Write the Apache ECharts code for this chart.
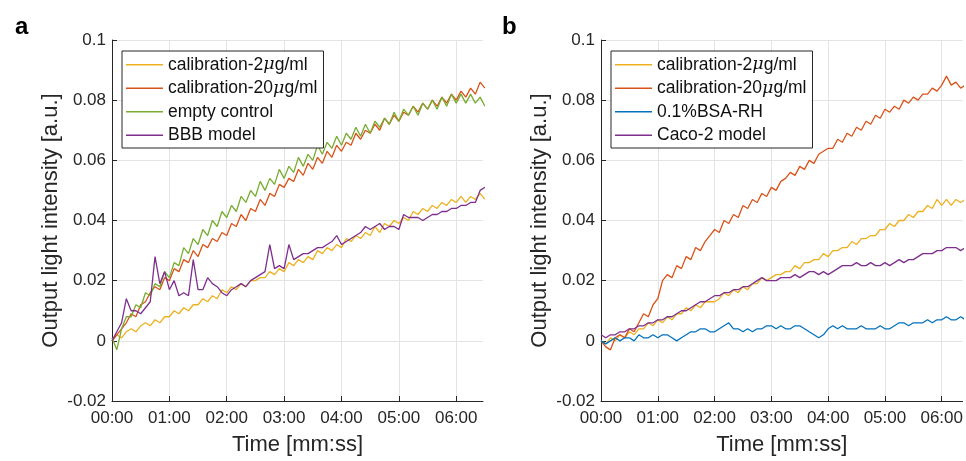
<!DOCTYPE html>
<html>
<head>
<meta charset="utf-8">
<script src="https://cdn.jsdelivr.net/npm/echarts@6/dist/echarts.min.js"></script>
<style>
html,body{margin:0;padding:0;background:#fff;}
#chart{width:966px;height:461px;}
</style>
</head>
<body>
<div id="chart"></div>
<script>
// ---- Data ----
const STEP_S = 5; // sample spacing in seconds
const xTickLabels = ['00:00','01:00','02:00','03:00','04:00','05:00','06:00'];
const yTickLabels = ['-0.02','0','0.02','0.04','0.06','0.08','0.1'];

// Panel a (t = 0 .. 390 s every 5 s)
const a_cal2 = [0.000,0.002,0.001,0.003,0.004,0.003,0.005,0.006,0.005,0.007,0.006,0.008,0.008,0.010,0.009,0.011,0.010,0.012,0.012,0.014,0.013,0.015,0.014,0.017,0.016,0.018,0.017,0.019,0.018,0.020,0.020,0.021,0.021,0.023,0.022,0.024,0.023,0.026,0.025,0.027,0.026,0.028,0.027,0.030,0.029,0.031,0.030,0.032,0.031,0.034,0.033,0.035,0.034,0.036,0.035,0.038,0.036,0.039,0.038,0.040,0.039,0.041,0.040,0.043,0.042,0.044,0.043,0.045,0.044,0.046,0.045,0.047,0.046,0.048,0.046,0.048,0.047,0.049,0.047];
const a_cal20 = [0.000,0.002,0.004,0.006,0.009,0.008,0.012,0.013,0.016,0.018,0.017,0.021,0.020,0.024,0.023,0.027,0.026,0.030,0.028,0.032,0.031,0.034,0.033,0.036,0.035,0.039,0.038,0.042,0.040,0.044,0.043,0.047,0.045,0.049,0.048,0.052,0.051,0.054,0.053,0.057,0.055,0.059,0.057,0.061,0.059,0.063,0.061,0.065,0.063,0.066,0.065,0.069,0.067,0.070,0.069,0.072,0.070,0.074,0.072,0.075,0.073,0.076,0.075,0.078,0.076,0.079,0.077,0.080,0.078,0.081,0.079,0.082,0.080,0.083,0.081,0.084,0.082,0.086,0.084];
const a_empty = [0.001,-0.003,0.004,0.008,0.008,0.012,0.011,0.016,0.015,0.019,0.018,0.023,0.021,0.026,0.025,0.031,0.029,0.034,0.032,0.037,0.035,0.040,0.038,0.043,0.041,0.045,0.043,0.048,0.046,0.050,0.048,0.053,0.050,0.054,0.052,0.057,0.054,0.058,0.056,0.061,0.058,0.062,0.060,0.065,0.062,0.066,0.064,0.068,0.065,0.069,0.067,0.071,0.068,0.072,0.069,0.073,0.071,0.074,0.072,0.076,0.073,0.077,0.075,0.078,0.075,0.079,0.077,0.080,0.077,0.081,0.078,0.082,0.079,0.082,0.079,0.082,0.079,0.081,0.078];
const a_bbb = [0.000,0.003,0.006,0.014,0.010,0.010,0.009,0.011,0.013,0.028,0.019,0.023,0.017,0.020,0.015,0.016,0.015,0.027,0.017,0.017,0.021,0.019,0.018,0.016,0.015,0.017,0.018,0.019,0.018,0.020,0.021,0.022,0.023,0.032,0.024,0.025,0.024,0.032,0.027,0.028,0.029,0.029,0.030,0.031,0.031,0.032,0.033,0.035,0.032,0.033,0.034,0.035,0.036,0.038,0.037,0.038,0.039,0.037,0.038,0.038,0.037,0.042,0.041,0.041,0.041,0.040,0.041,0.042,0.042,0.043,0.043,0.044,0.044,0.045,0.045,0.046,0.046,0.050,0.051];

// Panel b (t = 0 .. 385 s every 5 s)
const b_cal2 = [0.000,-0.001,0.001,0.000,0.002,0.001,0.003,0.002,0.004,0.004,0.006,0.005,0.007,0.006,0.008,0.007,0.009,0.009,0.011,0.010,0.012,0.011,0.013,0.013,0.013,0.014,0.016,0.015,0.017,0.016,0.018,0.017,0.019,0.019,0.021,0.020,0.021,0.022,0.022,0.023,0.023,0.025,0.024,0.026,0.026,0.027,0.027,0.029,0.028,0.030,0.030,0.031,0.031,0.033,0.032,0.034,0.034,0.035,0.035,0.037,0.037,0.039,0.038,0.040,0.040,0.042,0.041,0.043,0.043,0.045,0.044,0.047,0.045,0.047,0.045,0.047,0.046,0.047];
const b_cal20 = [0.000,-0.002,-0.003,0.001,0.002,0.001,0.004,0.003,0.006,0.009,0.008,0.012,0.014,0.020,0.022,0.021,0.025,0.024,0.028,0.027,0.031,0.030,0.033,0.035,0.037,0.036,0.040,0.039,0.042,0.041,0.045,0.044,0.047,0.046,0.049,0.048,0.051,0.050,0.053,0.054,0.056,0.055,0.058,0.057,0.060,0.059,0.062,0.063,0.064,0.064,0.067,0.066,0.069,0.068,0.071,0.070,0.073,0.072,0.075,0.074,0.077,0.076,0.078,0.077,0.080,0.079,0.081,0.080,0.082,0.082,0.084,0.083,0.085,0.088,0.085,0.086,0.084,0.085];
const b_bsa = [0.000,-0.001,0.000,0.001,0.000,0.001,0.001,0.000,0.002,0.001,0.001,0.002,0.001,0.002,0.002,0.001,0.000,0.001,0.002,0.003,0.003,0.004,0.004,0.003,0.003,0.004,0.005,0.006,0.004,0.004,0.003,0.004,0.003,0.004,0.004,0.005,0.005,0.004,0.005,0.004,0.004,0.005,0.005,0.004,0.003,0.002,0.001,0.002,0.004,0.005,0.004,0.005,0.004,0.004,0.004,0.005,0.004,0.004,0.004,0.005,0.004,0.004,0.005,0.006,0.006,0.005,0.006,0.006,0.006,0.007,0.006,0.007,0.007,0.008,0.007,0.007,0.008,0.007];
const b_caco = [0.002,0.001,0.002,0.002,0.003,0.003,0.004,0.004,0.005,0.005,0.006,0.006,0.007,0.007,0.008,0.008,0.009,0.010,0.010,0.011,0.012,0.013,0.013,0.014,0.015,0.015,0.016,0.016,0.017,0.017,0.018,0.018,0.019,0.020,0.021,0.020,0.020,0.020,0.021,0.021,0.021,0.022,0.021,0.022,0.023,0.023,0.022,0.023,0.022,0.023,0.024,0.025,0.025,0.025,0.026,0.025,0.025,0.026,0.025,0.025,0.026,0.025,0.026,0.027,0.026,0.027,0.027,0.028,0.029,0.029,0.029,0.030,0.030,0.031,0.031,0.031,0.030,0.031];

const seriesNamesA = ['calibration-2μg/ml','calibration-20μg/ml','empty control','BBB model'];
const seriesNamesB = ['calibration-2μg/ml ','calibration-20μg/ml ','0.1%BSA-RH','Caco-2 model'];
const COLORS = {yellow:'#EDB120', red:'#D95319', green:'#77AC30', purple:'#7E2F8E', blue:'#0072BD'};

// ---- Build ----
const toPairs = arr => arr.map((v, i) => [i * STEP_S, v]);
const FONT = 'Liberation Sans, Arial, sans-serif';
const TXT = '#262626';

function xAxisCfg(gi, max) {
  return {
    type: 'value', gridIndex: gi, min: 0, max: max, interval: 60,
    name: 'Time [mm:ss]', nameLocation: 'middle', nameGap: 33,
    nameTextStyle: {fontSize: 22, color: TXT, fontFamily: FONT},
    axisLine: {show: true, onZero: false, lineStyle: {color: TXT, width: 1}},
    axisTick: {show: true, inside: true, length: 5, lineStyle: {color: TXT}},
    axisLabel: {
      fontSize: 17, color: TXT, fontFamily: FONT, margin: 9, showMaxLabel: false,
      formatter: v => (v % 60 === 0 && xTickLabels[v / 60] !== undefined) ? xTickLabels[v / 60] : ''
    },
    splitLine: {show: true, showMaxLine: false, lineStyle: {color: '#e3e3e3', width: 1}}
  };
}
function yAxisCfg(gi) {
  return {
    type: 'value', gridIndex: gi, min: -0.02, max: 0.1, interval: 0.02,
    name: 'Output light intensity [a.u.]', nameLocation: 'middle', nameGap: 50,
    nameTextStyle: {fontSize: 22, color: TXT, fontFamily: FONT},
    axisLine: {show: true, lineStyle: {color: TXT, width: 1}},
    axisTick: {show: true, inside: true, length: 5, lineStyle: {color: TXT}},
    axisLabel: {
      fontSize: 17, color: TXT, fontFamily: FONT, margin: 6,
      formatter: v => { const i = Math.round((v + 0.02) / 0.02); return yTickLabels[i] !== undefined ? yTickLabels[i] : ''; }
    },
    splitLine: {show: true, lineStyle: {color: '#e3e3e3', width: 1}}
  };
}
function line(name, data, color, gi) {
  return {
    type: 'line', name: name, data: toPairs(data), xAxisIndex: gi, yAxisIndex: gi,
    showSymbol: false, symbol: 'none', animation: false, clip: true,
    lineStyle: {color: color, width: 1.3}, itemStyle: {color: color}
  };
}
function legendCfg(left, names) {
  return {
    orient: 'vertical', left: left, top: 51,
    data: names, icon: 'rect', itemWidth: 37, itemHeight: 1.4, itemGap: 4, itemTextGap: 4,
    padding: [4, 6, 3, 4],
    backgroundColor: '#fff', borderColor: TXT, borderWidth: 1, borderRadius: 0,
    formatter: n => n.trim().replace('μ', '{i|μ}'),
    textStyle: {fontSize: 17.5, lineHeight: 19.5, color: '#111', fontFamily: FONT,
      rich: {i: {fontSize: 17.5, lineHeight: 19.5, fontStyle: 'italic', color: '#111', fontFamily: 'DejaVu Serif, serif'}}},
    selectedMode: false
  };
}

const chart = echarts.init(document.getElementById('chart'), null, {renderer: 'canvas'});
chart.setOption({
  animation: false,
  backgroundColor: '#fff',
  title: [
    {text: 'a', left: 10, top: 10, textStyle: {fontSize: 24, fontWeight: 'bold', color: '#000', fontFamily: FONT}},
    {text: 'b', left: 497, top: 10, textStyle: {fontSize: 24, fontWeight: 'bold', color: '#000', fontFamily: FONT}}
  ],
  grid: [
    {left: 112, top: 40, width: 371, height: 365, containLabel: false},
    {left: 601, top: 40, width: 365, height: 365, containLabel: false}
  ],
  xAxis: [xAxisCfg(0, 388), xAxisCfg(1, 382)],
  yAxis: [yAxisCfg(0), yAxisCfg(1)],
  legend: [
    Object.assign(legendCfg(122, seriesNamesA), {id: 'la'}),
    Object.assign(legendCfg(611, seriesNamesB), {id: 'lb'})
  ],
  series: [
    line(seriesNamesA[0], a_cal2, COLORS.yellow, 0),
    line(seriesNamesA[1], a_cal20, COLORS.red, 0),
    line(seriesNamesA[2], a_empty, COLORS.green, 0),
    line(seriesNamesA[3], a_bbb, COLORS.purple, 0),
    line(seriesNamesB[0], b_cal2, COLORS.yellow, 1),
    line(seriesNamesB[1], b_cal20, COLORS.red, 1),
    line(seriesNamesB[2], b_bsa, COLORS.blue, 1),
    line(seriesNamesB[3], b_caco, COLORS.purple, 1)
  ]
});
</script>
</body>
</html>
